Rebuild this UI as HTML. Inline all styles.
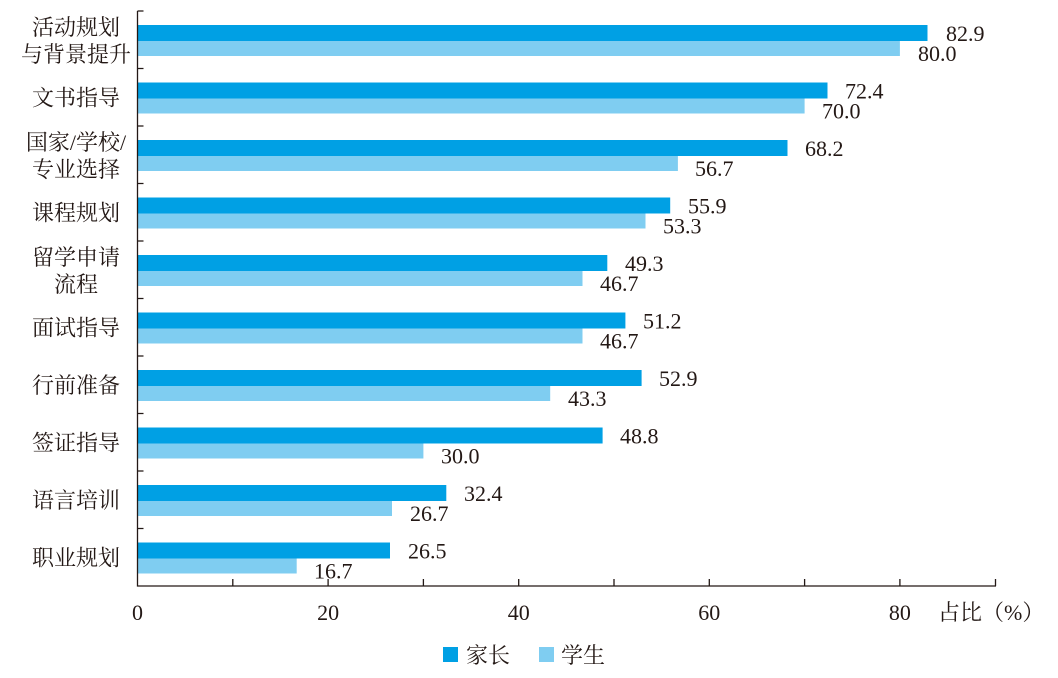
<!DOCTYPE html>
<html><head><meta charset="utf-8"><style>
html,body{margin:0;padding:0;background:#fff;}
svg{display:block;}
text{fill:#231815;}
.n{font-family:"Liberation Serif",serif;font-size:22px;}
.c{font-family:"Liberation Serif","Noto Serif CJK SC","Noto Sans CJK SC",serif;font-size:22px;}
</style></head><body>
<svg width="1058" height="678" viewBox="0 0 1058 678" xmlns="http://www.w3.org/2000/svg">
<g fill="#00A0E4">
<rect x="137.5" y="25" width="790" height="16"/>
<rect x="137.5" y="82.5" width="690" height="16"/>
<rect x="137.5" y="140" width="650" height="16"/>
<rect x="137.5" y="197.5" width="532.7" height="16"/>
<rect x="137.5" y="255" width="469.8" height="16"/>
<rect x="137.5" y="312.5" width="487.9" height="16"/>
<rect x="137.5" y="370" width="504.1" height="16"/>
<rect x="137.5" y="427.5" width="465.1" height="16"/>
<rect x="137.5" y="485" width="308.8" height="16"/>
<rect x="137.5" y="542.5" width="252.5" height="16"/>
</g>
<g fill="#7FCDF1">
<rect x="137.5" y="41" width="762.4" height="15"/>
<rect x="137.5" y="98.5" width="667.1" height="15"/>
<rect x="137.5" y="156" width="540.4" height="15"/>
<rect x="137.5" y="213.5" width="508" height="15"/>
<rect x="137.5" y="271" width="445" height="15"/>
<rect x="137.5" y="328.5" width="445" height="15"/>
<rect x="137.5" y="386" width="412.7" height="15"/>
<rect x="137.5" y="443.5" width="285.9" height="15"/>
<rect x="137.5" y="501" width="254.5" height="15"/>
<rect x="137.5" y="558.5" width="159.2" height="15"/>
</g>
<g>
<text class="n" x="946" y="41">82.9</text><text class="n" x="918" y="61">80.0</text>
<text class="n" x="845" y="98.5">72.4</text><text class="n" x="822" y="118.5">70.0</text>
<text class="n" x="805" y="156">68.2</text><text class="n" x="695" y="176">56.7</text>
<text class="n" x="688" y="213.5">55.9</text><text class="n" x="663" y="233.5">53.3</text>
<text class="n" x="625" y="271">49.3</text><text class="n" x="600" y="291">46.7</text>
<text class="n" x="643" y="328.5">51.2</text><text class="n" x="600" y="348.5">46.7</text>
<text class="n" x="659" y="386">52.9</text><text class="n" x="568" y="406">43.3</text>
<text class="n" x="620" y="443.5">48.8</text><text class="n" x="441" y="463.5">30.0</text>
<text class="n" x="464" y="501">32.4</text><text class="n" x="410" y="521">26.7</text>
<text class="n" x="408" y="558.5">26.5</text><text class="n" x="314" y="578.5">16.7</text>
</g>
<g text-anchor="middle">
<text class="c" x="76" y="35">活动规划</text><text class="c" x="76" y="62">与背景提升</text>
<text class="c" x="76" y="105.5">文书指导</text>
<text class="c" x="76" y="150">国家/学校/</text><text class="c" x="76" y="177">专业选择</text>
<text class="c" x="76" y="220.5">课程规划</text>
<text class="c" x="76" y="265">留学申请</text><text class="c" x="76" y="292">流程</text>
<text class="c" x="76" y="335.5">面试指导</text>
<text class="c" x="76" y="393">行前准备</text>
<text class="c" x="76" y="450.5">签证指导</text>
<text class="c" x="76" y="508">语言培训</text>
<text class="c" x="76" y="565.5">职业规划</text>
</g>
<g stroke="#231815" stroke-width="1.3" fill="none">
<path d="M137.5 11V586H996"/>
<path d="M137.5 11h6M137.5 68.5h6M137.5 126h6M137.5 183.5h6M137.5 241h6M137.5 298.5h6M137.5 356h6M137.5 413.5h6M137.5 471h6M137.5 528.5h6"/>
<path d="M232.8 586v-7M328.1 586v-7M423.4 586v-7M518.7 586v-7M614 586v-7M709.3 586v-7M804.6 586v-7M899.9 586v-7M995.5 586v-7"/>
</g>
<g text-anchor="middle">
<text class="n" x="137.5" y="620">0</text>
<text class="n" x="328.1" y="620">20</text>
<text class="n" x="518.7" y="620">40</text>
<text class="n" x="709.3" y="620">60</text>
<text class="n" x="899.9" y="620">80</text>
</g>
<text class="c" x="938" y="620">占比（%）</text>
<rect x="443" y="647" width="15" height="15" fill="#00A0E4"/><text class="c" x="466" y="663">家长</text>
<rect x="539" y="647" width="15" height="15" fill="#7FCDF1"/><text class="c" x="561" y="663">学生</text>
</svg>
</body></html>
